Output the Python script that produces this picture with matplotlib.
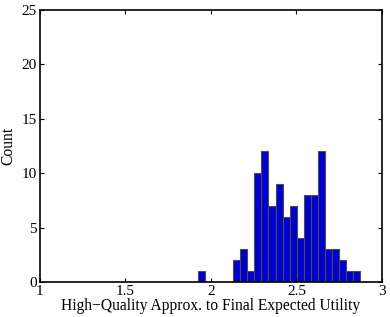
import matplotlib
matplotlib.use('Agg')
import matplotlib.pyplot as plt
import numpy as np

# histogram bins (left edge of first bin, bin width) and counts
first_edge = 1.925
bin_width = 0.0412
counts = [1, 0, 0, 0, 0, 2, 3, 1, 10, 12, 7, 9, 6, 7, 4, 8, 8, 12, 3, 3, 2, 1, 1]

xticks = [1, 1.5, 2, 2.5, 3]
xtick_labels = ['1', '1.5', '2', '2.5', '3']
yticks = [0, 5, 10, 15, 20, 25]

plt.rcParams['font.family'] = ['Liberation Serif', 'DejaVu Serif']

fig = plt.figure(figsize=(3.9, 3.17), dpi=100)
ax = fig.add_axes([39.5 / 390, 1 - 282 / 317, (382 - 39.5) / 390, (282 - 10) / 317])

lefts = first_edge + bin_width * np.arange(len(counts))
ax.bar(lefts, counts, width=bin_width, align='edge',
       color='#0000cc', edgecolor='#4a4a5a', linewidth=0.8)

ax.set_xlim(1, 3)
ax.set_ylim(0, 25)
ax.set_xticks(xticks)
ax.set_xticklabels(xtick_labels)
ax.set_yticks(yticks)
ax.tick_params(direction='in', length=3, width=0.8, labelsize=11,
               top=True, right=True, pad=2)
for s in ax.spines.values():
    s.set_linewidth(1.2)

ax.set_xlabel('High\u2212Quality Approx. to Final Expected Utility', fontsize=11.2, labelpad=0)
ax.set_ylabel('Count', fontsize=11.2, labelpad=4)

fig.savefig('out.png', dpi=100)
